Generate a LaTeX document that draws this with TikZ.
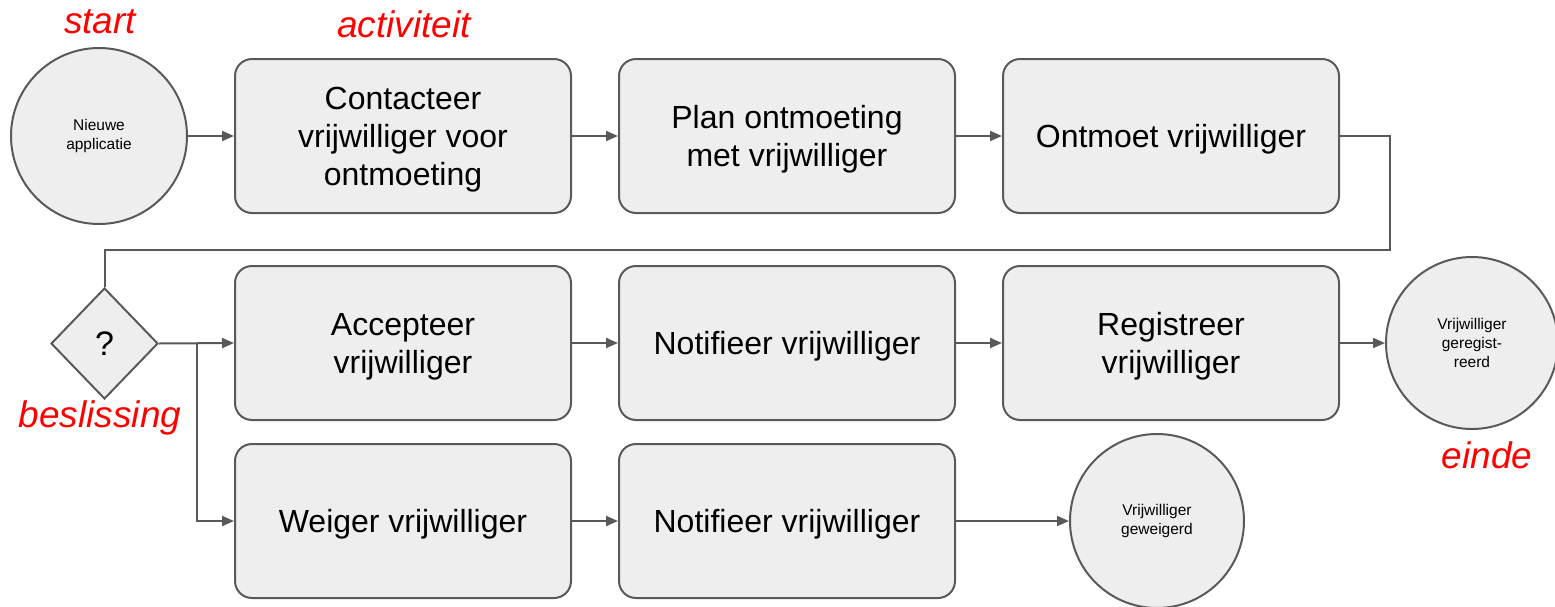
\documentclass[tikz,border=0pt]{standalone}
\usepackage{fontspec}
\setmainfont{Liberation Sans}
\usetikzlibrary{arrows.meta, shapes.geometric}
\definecolor{boxfill}{HTML}{EEEEEE}
\definecolor{edge}{HTML}{595959}
\tikzset{>={Triangle[length=6pt,width=5pt]}}
\tikzset{
    box/.style={draw=edge, fill=boxfill, line width=1pt, rounded corners=8.5pt,
        minimum width=168pt, minimum height=77pt, align=center, inner sep=0pt,
        text depth=0pt, font=\fontsize{16}{19}\selectfont},
    bubble/.style={draw=edge, fill=boxfill, line width=1pt, circle, inner sep=0pt,
        align=center, font=\fontsize{7.75}{9.5}\selectfont},
    choice/.style={draw=edge, fill=boxfill, line width=1pt, diamond, inner sep=0pt,
        minimum width=53.5pt, minimum height=55.5pt, font=\fontsize{17}{19}\selectfont},
    redtag/.style={text=red, font=\fontsize{18.5}{20}\selectfont\itshape},
    flow/.style={draw=edge, line width=1pt}
}

\begin{document}
\begin{tikzpicture}[x=0.5pt, y=-0.5pt]
    \useasboundingbox (0,0) rectangle (1555,606);
    % top row
    \node[bubble, minimum size=88pt] (start) at (99,136) {Nieuwe\\applicatie};
    \node[box] (contact) at (403,136) {Contacteer\\vrijwilliger voor\\ontmoeting};
    \node[box] (plan) at (787,136) {Plan ontmoeting\\met vrijwilliger};
    \node[box] (meet) at (1171,136) {Ontmoet vrijwilliger};
    % decision
    \node[choice] (dec) at (104.5,343.5) {?};
    \coordinate (turn) at (1390,250);
    \coordinate (split) at (197,343.5);
    % middle row
    \node[box] (accept) at (403,343) {Accepteer\\vrijwilliger};
    \node[box] (notifyA) at (787,343) {Notifieer vrijwilliger};
    \node[box] (register) at (1171,343) {Registreer\\vrijwilliger};
    \node[bubble, minimum size=86pt] (done) at (1472,343) {Vrijwilliger\\geregist-\\reerd};
    % bottom row
    \node[box] (reject) at (403,521) {Weiger vrijwilliger};
    \node[box] (notifyR) at (787,521) {Notifieer vrijwilliger};
    \node[bubble, minimum size=87pt] (refused) at (1157,521) {Vrijwilliger\\geweigerd};
    % connectors
    \draw[flow, ->] (start) -- (contact);
    \draw[flow, ->] (contact) -- (plan);
    \draw[flow, ->] (plan) -- (meet);
    \draw[flow] (meet.east) -| (turn) -| (dec.north);
    \draw[flow, ->] (dec.east) -- (accept.west);
    \draw[flow, ->] (split) |- (reject.west);
    \draw[flow, ->] (accept) -- (notifyA);
    \draw[flow, ->] (notifyA) -- (register);
    \draw[flow, ->] (register) -- (done);
    \draw[flow, ->] (reject) -- (notifyR);
    \draw[flow, ->] (notifyR) -- (refused);
    % red tags
    \node[redtag] (tagstart) at (100,22) {start};
    \node[redtag] (tagact) at (404,24) {activiteit};
    \node[redtag] (tagdec) at (100,418) {beslissing};
    \node[redtag] (tagend) at (1487,455) {einde};
\end{tikzpicture}
\end{document}
